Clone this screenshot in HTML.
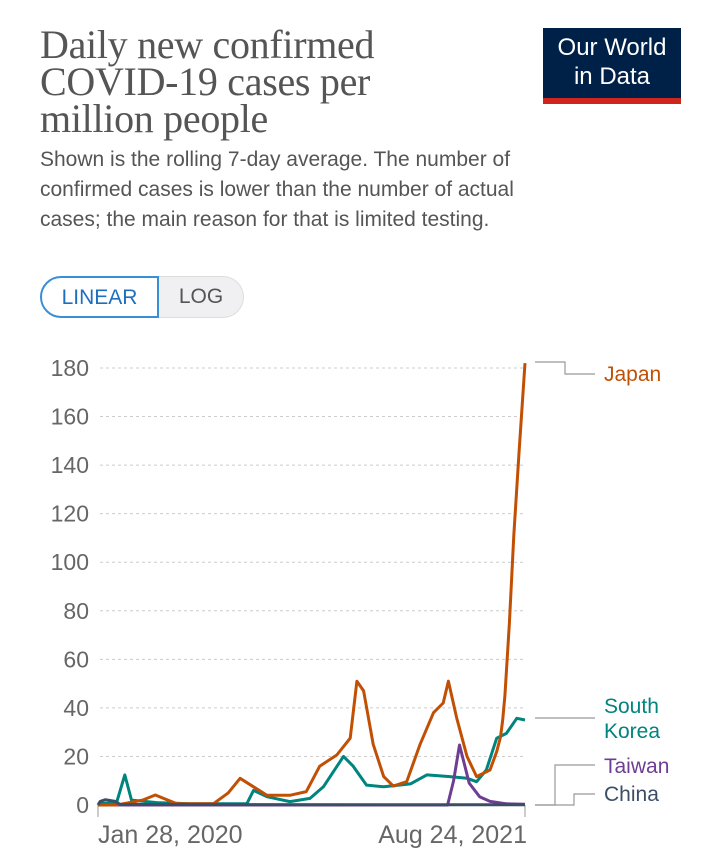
<!DOCTYPE html>
<html><head><meta charset="utf-8"><style>
body{margin:0;background:#fff;width:720px;height:855px;overflow:hidden;font-family:"Liberation Sans",sans-serif}
.title{position:absolute;left:40px;top:26px;font-family:"Liberation Serif",serif;font-size:40px;line-height:37px;color:#555;width:385px;letter-spacing:-0.3px}
.sub{position:absolute;left:40px;top:145px;font-size:21px;line-height:30px;color:#555;width:530px}
.logo{position:absolute;left:543px;top:28px;width:138px;height:76px;background:#002147;color:#fff;font-size:24px;line-height:29px;text-align:center;box-sizing:border-box;padding-top:5px;border-bottom:6px solid #ce261e}
.btn{position:absolute;top:276px;height:42px;box-sizing:border-box;font-size:21px;line-height:40px;text-align:center}
</style></head><body>
<div class="title">Daily new confirmed COVID-19 cases per million people</div>
<div class="sub">Shown is the rolling 7-day average. The number of confirmed cases is lower than the number of actual cases; the main reason for that is limited testing.</div>
<div class="logo">Our World<br>in Data</div>
<div class="btn" style="left:40px;width:119px;border:2px solid #3a8ed6;border-radius:21px 0 0 21px;color:#1f6fbf;background:#fff">LINEAR</div>
<div class="btn" style="left:159px;width:85px;border:1px solid #ddd;border-left:none;border-radius:0 21px 21px 0;color:#555;background:#f0f0f2">LOG</div>
<svg id="chart" width="720" height="855" style="position:absolute;left:0;top:0"></svg>
<script>
const yTicks=[0,20,40,60,80,100,120,140,160,180];
const xTickDays=[0,574];
const xTickLabels=["Jan 28, 2020","Aug 24, 2021"];
const japanDays=[0,25,60,77,106,155,175,191,209,227,258,280,298,321,339,348,357,370,384,397,415,433,451,464,471,482,496,509,527,536,541,544,547,553,559,566,574];
const japanVals=[0,0,2,4.1,0.5,0.5,5,11,7.5,4,4,5.5,16,20.6,27.5,51,47,25,11.7,7.8,9.6,25,38,42,51,36,20,11.7,14.4,22,28,35,45,75,111,145,182];
const koreaDays=[0,25,36,45,79,124,196,200,209,227,258,285,303,330,343,361,384,420,442,473,496,509,522,536,549,563,574];
const koreaVals=[0.5,1,12.4,2,1,0.5,0.5,0.5,6,3.4,1.4,2.7,7.5,20,16,8.2,7.5,8.7,12.4,11.7,11,9.6,14.4,27.5,29.5,35.7,35];
const taiwanDays=[0,470,478,486,499,513,527,549,574];
const taiwanVals=[0,0,10,24.7,9,3.4,1.5,0.5,0.3];
const chinaDays=[0,3,10,23,30,574];
const chinaVals=[0,1.5,2.2,1.5,0.2,0.1];
const NS="http://www.w3.org/2000/svg";
const svg=document.getElementById('chart');
const X0=98,X1=525,Y0=805,Y1=368;
const xS=d=>X0+d/574*(X1-X0);
const yS=v=>Y0-v/180*(Y0-Y1);
function mk(t,a){const e=document.createElementNS(NS,t);for(const k in a)e.setAttribute(k,a[k]);svg.appendChild(e);return e;}
yTicks.forEach(v=>{
  const y=yS(v);
  if(v>0){const g=mk('line',{x1:100,x2:525,y1:y,y2:y,stroke:'#ccc','stroke-dasharray':'3,3'});
  
  }
  const t=mk('text',{x:89,y:y+8,'text-anchor':'end','font-size':23,fill:'#666'});
  t.textContent=v;
  
  
});
mk('line',{x1:X0,x2:X1,y1:Y0,y2:Y0,stroke:'#999'});
xTickDays.forEach((d,i)=>{
  const x=xS(d);
  mk('line',{x1:x,x2:x,y1:Y0,y2:Y0+12,stroke:'#999'});
  const t=mk('text',{x:i==0?x:x+2,y:843,'text-anchor':i==0?'start':'end','font-size':25,fill:'#666'});
  t.textContent=xTickLabels[i];
  
  
});
function series(days,vals,color,name){
  const p=mk('path',{d:days.map((d,i)=>(i?'L':'M')+xS(d).toFixed(1)+','+yS(vals[i]).toFixed(1)).join(''),fill:'none',stroke:color,'stroke-width':3,'stroke-linejoin':'round'});
  
  
}
series(koreaDays,koreaVals,'#00847e','south-korea');
series(taiwanDays,taiwanVals,'#6d3e91','taiwan');
series(japanDays,japanVals,'#c15005','japan');
series(chinaDays,chinaVals,'#3c4e66','china');
function conn(pts){mk('polyline',{points:pts,fill:'none',stroke:'#999','stroke-width':1.2});}
conn('535,362 565,362 565,374 595,374');
conn('535,718 595,718');
conn('535,805 555,805 555,765 595,765');
conn('535,805 574,805 574,794 595,794');
function lab(lines,y,color,name){const t=mk('text',{x:604,y:y,'font-size':21,fill:color});
 lines.forEach((l,i)=>{const s=document.createElementNS(NS,'tspan');s.setAttribute('x',604);s.setAttribute('dy',i?25:0);s.textContent=l;t.appendChild(s);});
 
 }
lab(['Japan'],381,'#c15005','japan-label');
lab(['South','Korea'],713,'#00847e','south-korea-label');
lab(['Taiwan'],773,'#6d3e91','taiwan-label');
lab(['China'],801,'#3c4e66','china-label');
</script>
</body></html>
